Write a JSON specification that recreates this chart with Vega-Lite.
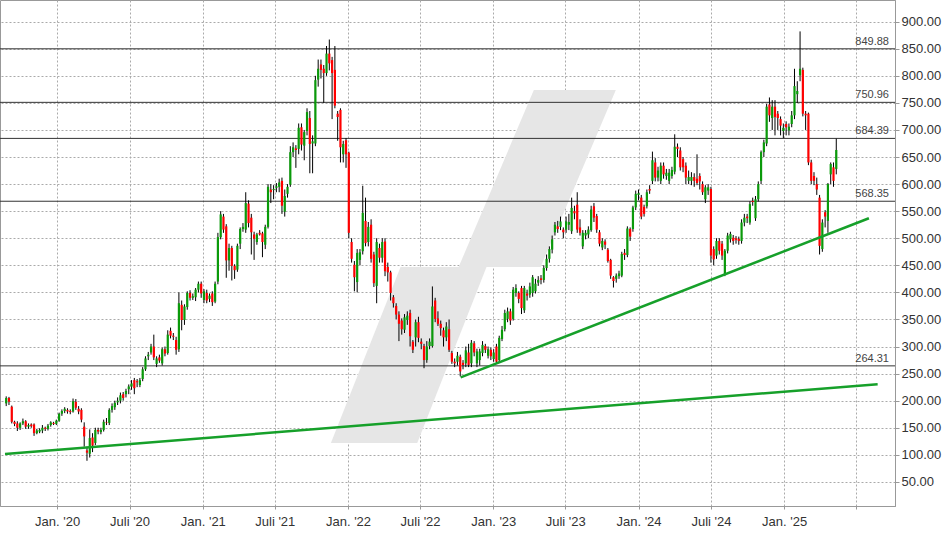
{
"$schema": "https://vega.github.io/schema/vega-lite/v6.json",
"width": 895, "height": 506,
"autosize": "none",
"padding": {"left": 0, "top": 0, "right": 53, "bottom": 28},
"background": "white",
"config": {
 "view": {"stroke": "#999", "strokeWidth": 1},
 "axis": {"labelFont": "Liberation Sans", "labelFontSize": 13, "labelColor": "#333", "gridColor": "#aaa", "gridDash": [2, 2], "gridWidth": 1, "domainColor": "#999", "tickColor": "#999", "tickSize": 4, "title": null, "labelOverlap": false},
 "axisY": {"labelOverlap": false, "labelFlush": false}
},
"datasets": {
 "wm": [
  {"s": "L", "d": "2021-11-19", "lo": 121.9, "hi": 121.9},
  {"s": "L", "d": "2022-05-13", "lo": 121.9, "hi": 446.9},
  {"s": "L", "d": "2022-06-24", "lo": 121.9, "hi": 446.9},
  {"s": "L", "d": "2022-12-15", "lo": 446.9, "hi": 446.9},
  {"s": "U", "d": "2022-10-06", "lo": 446.9, "hi": 446.9},
  {"s": "U", "d": "2023-04-13", "lo": 446.9, "hi": 773.8},
  {"s": "U", "d": "2023-04-30", "lo": 446.9, "hi": 773.8},
  {"s": "U", "d": "2023-11-05", "lo": 773.8, "hi": 773.8}
 ],
 "levels": [
  {"v": 849.88, "t": "849.88", "d": "2025-09-24"},
  {"v": 750.96, "t": "750.96", "d": "2025-09-24"},
  {"v": 684.39, "t": "684.39", "d": "2025-09-24"},
  {"v": 568.35, "t": "568.35", "d": "2025-09-24"},
  {"v": 264.31, "t": "264.31", "d": "2025-09-24"}
 ],
 "trend": [
  {"g": "A", "d": "2019-08-23", "p": 101.5},
  {"g": "A", "d": "2025-08-24", "p": 230.5},
  {"g": "B", "d": "2022-10-11", "p": 243},
  {"g": "B", "d": "2025-08-02", "p": 537}
 ],
 "k": [
{"d":"2019-08-26","o":195,"h":208,"l":190,"c":205},
{"d":"2019-09-02","o":205,"h":207,"l":192,"c":198},
{"d":"2019-09-09","o":189,"h":191,"l":158,"c":161},
{"d":"2019-09-16","o":161,"h":163,"l":153,"c":157},
{"d":"2019-09-23","o":158,"h":162,"l":144,"c":150},
{"d":"2019-09-30","o":150,"h":160,"l":146,"c":158},
{"d":"2019-10-07","o":158,"h":167,"l":155,"c":162},
{"d":"2019-10-14","o":162,"h":164,"l":148,"c":152},
{"d":"2019-10-21","o":152,"h":158,"l":148,"c":155},
{"d":"2019-10-28","o":156,"h":158,"l":150,"c":153},
{"d":"2019-11-04","o":156,"h":158,"l":135,"c":140},
{"d":"2019-11-11","o":140,"h":148,"l":138,"c":145},
{"d":"2019-11-18","o":143,"h":149,"l":140,"c":146},
{"d":"2019-11-25","o":145,"h":155,"l":140,"c":150},
{"d":"2019-12-02","o":150,"h":152,"l":144,"c":148},
{"d":"2019-12-09","o":148,"h":157,"l":145,"c":154},
{"d":"2019-12-16","o":155,"h":162,"l":152,"c":160},
{"d":"2019-12-23","o":159,"h":161,"l":155,"c":157},
{"d":"2019-12-30","o":157,"h":165,"l":155,"c":163},
{"d":"2020-01-06","o":163,"h":178,"l":161,"c":176},
{"d":"2020-01-13","o":176,"h":184,"l":172,"c":181},
{"d":"2020-01-20","o":181,"h":188,"l":177,"c":185},
{"d":"2020-01-27","o":183,"h":186,"l":176,"c":180},
{"d":"2020-02-03","o":181,"h":184,"l":175,"c":179},
{"d":"2020-02-10","o":180,"h":204,"l":178,"c":199},
{"d":"2020-02-17","o":198,"h":203,"l":183,"c":187},
{"d":"2020-02-24","o":185,"h":190,"l":175,"c":180},
{"d":"2020-03-02","o":183,"h":186,"l":160,"c":165},
{"d":"2020-03-09","o":152,"h":160,"l":115,"c":134},
{"d":"2020-03-16","o":108,"h":115,"l":89,"c":104},
{"d":"2020-03-23","o":102,"h":147,"l":95,"c":131},
{"d":"2020-03-30","o":132,"h":140,"l":105,"c":117},
{"d":"2020-04-06","o":122,"h":150,"l":118,"c":146},
{"d":"2020-04-13","o":146,"h":150,"l":138,"c":143},
{"d":"2020-04-20","o":142,"h":150,"l":138,"c":146},
{"d":"2020-04-27","o":146,"h":165,"l":143,"c":161},
{"d":"2020-05-04","o":160,"h":168,"l":155,"c":159},
{"d":"2020-05-11","o":159,"h":186,"l":155,"c":183},
{"d":"2020-05-18","o":183,"h":195,"l":178,"c":190},
{"d":"2020-05-25","o":188,"h":200,"l":183,"c":196},
{"d":"2020-06-01","o":197,"h":206,"l":192,"c":200},
{"d":"2020-06-08","o":200,"h":215,"l":195,"c":210},
{"d":"2020-06-15","o":212,"h":216,"l":200,"c":205},
{"d":"2020-06-22","o":212,"h":222,"l":206,"c":218},
{"d":"2020-06-29","o":221,"h":230,"l":212,"c":226},
{"d":"2020-07-06","o":226,"h":238,"l":220,"c":232},
{"d":"2020-07-13","o":238,"h":242,"l":212,"c":223},
{"d":"2020-07-20","o":236,"h":240,"l":225,"c":234},
{"d":"2020-07-27","o":229,"h":242,"l":225,"c":238},
{"d":"2020-08-03","o":240,"h":262,"l":236,"c":258},
{"d":"2020-08-10","o":258,"h":282,"l":255,"c":278},
{"d":"2020-08-17","o":282,"h":290,"l":275,"c":285},
{"d":"2020-08-24","o":289,"h":305,"l":285,"c":300},
{"d":"2020-08-31","o":300,"h":322,"l":275,"c":280},
{"d":"2020-09-07","o":268,"h":282,"l":262,"c":278},
{"d":"2020-09-14","o":280,"h":285,"l":270,"c":274},
{"d":"2020-09-21","o":269,"h":298,"l":265,"c":295},
{"d":"2020-09-28","o":295,"h":300,"l":282,"c":287},
{"d":"2020-10-05","o":288,"h":330,"l":285,"c":322},
{"d":"2020-10-12","o":329,"h":335,"l":315,"c":320},
{"d":"2020-10-19","o":320,"h":325,"l":312,"c":318},
{"d":"2020-10-26","o":312,"h":318,"l":285,"c":294},
{"d":"2020-11-02","o":295,"h":400,"l":290,"c":380},
{"d":"2020-11-09","o":377,"h":385,"l":330,"c":349},
{"d":"2020-11-16","o":349,"h":378,"l":340,"c":374},
{"d":"2020-11-23","o":373,"h":402,"l":368,"c":399},
{"d":"2020-11-30","o":399,"h":404,"l":385,"c":390},
{"d":"2020-12-07","o":390,"h":398,"l":386,"c":393},
{"d":"2020-12-14","o":391,"h":408,"l":384,"c":405},
{"d":"2020-12-21","o":405,"h":420,"l":400,"c":416},
{"d":"2020-12-28","o":416,"h":420,"l":390,"c":398},
{"d":"2021-01-04","o":386,"h":406,"l":380,"c":402},
{"d":"2021-01-11","o":399,"h":405,"l":380,"c":385},
{"d":"2021-01-18","o":388,"h":398,"l":382,"c":394},
{"d":"2021-01-25","o":398,"h":402,"l":375,"c":382},
{"d":"2021-02-01","o":383,"h":420,"l":380,"c":416},
{"d":"2021-02-08","o":420,"h":510,"l":415,"c":502},
{"d":"2021-02-15","o":502,"h":550,"l":498,"c":544},
{"d":"2021-02-22","o":540,"h":545,"l":510,"c":516},
{"d":"2021-03-01","o":522,"h":526,"l":427,"c":459},
{"d":"2021-03-08","o":459,"h":490,"l":440,"c":482},
{"d":"2021-03-15","o":482,"h":486,"l":422,"c":449},
{"d":"2021-03-22","o":449,"h":452,"l":425,"c":441},
{"d":"2021-03-29","o":442,"h":490,"l":438,"c":486},
{"d":"2021-04-05","o":490,"h":520,"l":480,"c":517},
{"d":"2021-04-12","o":517,"h":528,"l":512,"c":521},
{"d":"2021-04-19","o":516,"h":585,"l":510,"c":565},
{"d":"2021-04-26","o":564,"h":570,"l":520,"c":528},
{"d":"2021-05-03","o":538,"h":545,"l":470,"c":511},
{"d":"2021-05-10","o":507,"h":512,"l":460,"c":499},
{"d":"2021-05-17","o":493,"h":510,"l":488,"c":507},
{"d":"2021-05-24","o":510,"h":515,"l":505,"c":507},
{"d":"2021-05-31","o":509,"h":512,"l":465,"c":493},
{"d":"2021-06-07","o":488,"h":525,"l":480,"c":521},
{"d":"2021-06-14","o":521,"h":600,"l":518,"c":595},
{"d":"2021-06-21","o":590,"h":600,"l":565,"c":585},
{"d":"2021-06-28","o":589,"h":598,"l":572,"c":591},
{"d":"2021-07-05","o":593,"h":602,"l":585,"c":596},
{"d":"2021-07-12","o":595,"h":610,"l":585,"c":603},
{"d":"2021-07-19","o":606,"h":612,"l":545,"c":560},
{"d":"2021-07-26","o":549,"h":590,"l":540,"c":578},
{"d":"2021-08-02","o":582,"h":600,"l":575,"c":595},
{"d":"2021-08-09","o":599,"h":670,"l":595,"c":659},
{"d":"2021-08-16","o":659,"h":677,"l":650,"c":668},
{"d":"2021-08-23","o":666,"h":672,"l":630,"c":663},
{"d":"2021-08-30","o":665,"h":712,"l":655,"c":704},
{"d":"2021-09-06","o":705,"h":712,"l":662,"c":673},
{"d":"2021-09-13","o":671,"h":700,"l":644,"c":696},
{"d":"2021-09-20","o":698,"h":740,"l":690,"c":733},
{"d":"2021-09-27","o":722,"h":735,"l":620,"c":674},
{"d":"2021-10-04","o":675,"h":690,"l":620,"c":679},
{"d":"2021-10-11","o":675,"h":800,"l":670,"c":792},
{"d":"2021-10-18","o":793,"h":830,"l":780,"c":813},
{"d":"2021-10-25","o":821,"h":830,"l":795,"c":811},
{"d":"2021-11-01","o":813,"h":820,"l":750,"c":805},
{"d":"2021-11-08","o":805,"h":855,"l":800,"c":841},
{"d":"2021-11-15","o":841,"h":867,"l":810,"c":823},
{"d":"2021-11-22","o":829,"h":835,"l":720,"c":805},
{"d":"2021-11-29","o":811,"h":855,"l":740,"c":745},
{"d":"2021-12-06","o":730,"h":735,"l":680,"c":724},
{"d":"2021-12-13","o":737,"h":740,"l":640,"c":668},
{"d":"2021-12-20","o":655,"h":680,"l":640,"c":674},
{"d":"2021-12-27","o":681,"h":685,"l":630,"c":655},
{"d":"2022-01-03","o":658,"h":660,"l":500,"c":510},
{"d":"2022-01-10","o":493,"h":500,"l":455,"c":462},
{"d":"2022-01-17","o":451,"h":458,"l":402,"c":428},
{"d":"2022-01-24","o":419,"h":480,"l":400,"c":473},
{"d":"2022-01-31","o":460,"h":480,"l":450,"c":474},
{"d":"2022-02-07","o":476,"h":597,"l":470,"c":547},
{"d":"2022-02-14","o":532,"h":575,"l":485,"c":491},
{"d":"2022-02-21","o":493,"h":530,"l":485,"c":521},
{"d":"2022-02-28","o":525,"h":535,"l":455,"c":462},
{"d":"2022-03-07","o":470,"h":475,"l":410,"c":417},
{"d":"2022-03-14","o":412,"h":500,"l":380,"c":493},
{"d":"2022-03-21","o":482,"h":490,"l":455,"c":464},
{"d":"2022-03-28","o":464,"h":500,"l":455,"c":493},
{"d":"2022-04-04","o":494,"h":500,"l":430,"c":439},
{"d":"2022-04-11","o":447,"h":455,"l":420,"c":437},
{"d":"2022-04-18","o":437,"h":440,"l":385,"c":399},
{"d":"2022-04-25","o":391,"h":395,"l":372,"c":380},
{"d":"2022-05-02","o":375,"h":380,"l":350,"c":359},
{"d":"2022-05-09","o":359,"h":365,"l":310,"c":342},
{"d":"2022-05-16","o":348,"h":352,"l":322,"c":332},
{"d":"2022-05-23","o":331,"h":360,"l":325,"c":354},
{"d":"2022-05-30","o":349,"h":365,"l":340,"c":357},
{"d":"2022-06-06","o":362,"h":368,"l":300,"c":319},
{"d":"2022-06-13","o":309,"h":312,"l":288,"c":294},
{"d":"2022-06-20","o":317,"h":350,"l":300,"c":345},
{"d":"2022-06-27","o":345,"h":355,"l":308,"c":316},
{"d":"2022-07-04","o":309,"h":315,"l":295,"c":305},
{"d":"2022-07-11","o":301,"h":305,"l":260,"c":275},
{"d":"2022-07-18","o":275,"h":310,"l":270,"c":300},
{"d":"2022-07-25","o":301,"h":315,"l":295,"c":309},
{"d":"2022-08-01","o":301,"h":411,"l":298,"c":374},
{"d":"2022-08-08","o":385,"h":390,"l":345,"c":351},
{"d":"2022-08-15","o":352,"h":365,"l":338,"c":342},
{"d":"2022-08-22","o":342,"h":348,"l":320,"c":334},
{"d":"2022-08-29","o":330,"h":335,"l":300,"c":317},
{"d":"2022-09-05","o":317,"h":345,"l":310,"c":337},
{"d":"2022-09-12","o":332,"h":350,"l":290,"c":294},
{"d":"2022-09-19","o":288,"h":292,"l":268,"c":272},
{"d":"2022-09-26","o":272,"h":278,"l":262,"c":269},
{"d":"2022-10-03","o":272,"h":290,"l":265,"c":283},
{"d":"2022-10-10","o":281,"h":285,"l":245,"c":254},
{"d":"2022-10-17","o":270,"h":275,"l":258,"c":266},
{"d":"2022-10-24","o":269,"h":300,"l":262,"c":293},
{"d":"2022-10-31","o":289,"h":305,"l":262,"c":266},
{"d":"2022-11-07","o":269,"h":312,"l":262,"c":307},
{"d":"2022-11-14","o":306,"h":310,"l":282,"c":289},
{"d":"2022-11-21","o":269,"h":296,"l":262,"c":291},
{"d":"2022-11-28","o":275,"h":296,"l":265,"c":291},
{"d":"2022-12-05","o":288,"h":310,"l":282,"c":303},
{"d":"2022-12-12","o":301,"h":305,"l":288,"c":294},
{"d":"2022-12-19","o":283,"h":300,"l":278,"c":295},
{"d":"2022-12-26","o":294,"h":298,"l":275,"c":282},
{"d":"2023-01-02","o":277,"h":295,"l":272,"c":289},
{"d":"2023-01-09","o":300,"h":305,"l":268,"c":272},
{"d":"2023-01-16","o":275,"h":320,"l":270,"c":316},
{"d":"2023-01-23","o":314,"h":338,"l":310,"c":331},
{"d":"2023-01-30","o":332,"h":368,"l":328,"c":362},
{"d":"2023-02-06","o":351,"h":372,"l":345,"c":365},
{"d":"2023-02-13","o":365,"h":370,"l":340,"c":348},
{"d":"2023-02-20","o":351,"h":410,"l":348,"c":405},
{"d":"2023-02-27","o":399,"h":415,"l":392,"c":408},
{"d":"2023-03-06","o":399,"h":402,"l":380,"c":388},
{"d":"2023-03-13","o":408,"h":412,"l":360,"c":371},
{"d":"2023-03-20","o":367,"h":412,"l":362,"c":408},
{"d":"2023-03-27","o":398,"h":405,"l":385,"c":394},
{"d":"2023-04-03","o":396,"h":418,"l":390,"c":411},
{"d":"2023-04-10","o":399,"h":432,"l":392,"c":428},
{"d":"2023-04-17","o":402,"h":425,"l":398,"c":416},
{"d":"2023-04-24","o":418,"h":430,"l":412,"c":423},
{"d":"2023-05-01","o":426,"h":432,"l":415,"c":423},
{"d":"2023-05-08","o":423,"h":450,"l":418,"c":445},
{"d":"2023-05-15","o":445,"h":470,"l":440,"c":462},
{"d":"2023-05-22","o":462,"h":485,"l":455,"c":480},
{"d":"2023-05-29","o":479,"h":505,"l":472,"c":498},
{"d":"2023-06-05","o":511,"h":530,"l":505,"c":525},
{"d":"2023-06-12","o":522,"h":532,"l":510,"c":517},
{"d":"2023-06-19","o":521,"h":540,"l":515,"c":531},
{"d":"2023-06-26","o":516,"h":520,"l":500,"c":511},
{"d":"2023-07-03","o":516,"h":540,"l":510,"c":531},
{"d":"2023-07-10","o":525,"h":545,"l":515,"c":530},
{"d":"2023-07-17","o":513,"h":575,"l":508,"c":556},
{"d":"2023-07-24","o":550,"h":560,"l":535,"c":546},
{"d":"2023-07-31","o":562,"h":585,"l":510,"c":516},
{"d":"2023-08-07","o":520,"h":535,"l":505,"c":510},
{"d":"2023-08-14","o":485,"h":515,"l":480,"c":510},
{"d":"2023-08-21","o":505,"h":515,"l":498,"c":510},
{"d":"2023-08-28","o":507,"h":522,"l":500,"c":516},
{"d":"2023-09-04","o":515,"h":560,"l":512,"c":553},
{"d":"2023-09-11","o":559,"h":565,"l":530,"c":538},
{"d":"2023-09-18","o":541,"h":545,"l":510,"c":516},
{"d":"2023-09-25","o":511,"h":515,"l":485,"c":490},
{"d":"2023-10-02","o":483,"h":500,"l":478,"c":495},
{"d":"2023-10-09","o":494,"h":498,"l":480,"c":488},
{"d":"2023-10-16","o":479,"h":482,"l":455,"c":458},
{"d":"2023-10-23","o":460,"h":462,"l":425,"c":431},
{"d":"2023-10-30","o":428,"h":430,"l":409,"c":421},
{"d":"2023-11-06","o":425,"h":435,"l":418,"c":431},
{"d":"2023-11-13","o":430,"h":440,"l":425,"c":435},
{"d":"2023-11-20","o":431,"h":475,"l":428,"c":471},
{"d":"2023-11-27","o":473,"h":480,"l":460,"c":469},
{"d":"2023-12-04","o":469,"h":522,"l":465,"c":518},
{"d":"2023-12-11","o":517,"h":520,"l":495,"c":503},
{"d":"2023-12-18","o":517,"h":560,"l":512,"c":557},
{"d":"2023-12-25","o":557,"h":588,"l":552,"c":582},
{"d":"2024-01-01","o":580,"h":590,"l":570,"c":583},
{"d":"2024-01-08","o":575,"h":580,"l":535,"c":540},
{"d":"2024-01-15","o":558,"h":562,"l":540,"c":545},
{"d":"2024-01-22","o":559,"h":590,"l":555,"c":585},
{"d":"2024-01-29","o":591,"h":598,"l":582,"c":588},
{"d":"2024-02-05","o":606,"h":660,"l":600,"c":644},
{"d":"2024-02-12","o":640,"h":648,"l":605,"c":612},
{"d":"2024-02-19","o":612,"h":632,"l":605,"c":625},
{"d":"2024-02-26","o":606,"h":640,"l":600,"c":634},
{"d":"2024-03-04","o":634,"h":640,"l":610,"c":618},
{"d":"2024-03-11","o":615,"h":628,"l":608,"c":621},
{"d":"2024-03-18","o":606,"h":628,"l":600,"c":621},
{"d":"2024-03-25","o":615,"h":632,"l":610,"c":626},
{"d":"2024-04-01","o":623,"h":692,"l":618,"c":669},
{"d":"2024-04-08","o":669,"h":675,"l":650,"c":665},
{"d":"2024-04-15","o":662,"h":668,"l":625,"c":631},
{"d":"2024-04-22","o":646,"h":650,"l":622,"c":631},
{"d":"2024-04-29","o":634,"h":640,"l":600,"c":612},
{"d":"2024-05-06","o":606,"h":625,"l":600,"c":613},
{"d":"2024-05-13","o":606,"h":622,"l":598,"c":613},
{"d":"2024-05-20","o":613,"h":620,"l":595,"c":606},
{"d":"2024-05-27","o":610,"h":655,"l":598,"c":602},
{"d":"2024-06-03","o":615,"h":620,"l":590,"c":605},
{"d":"2024-06-10","o":600,"h":605,"l":580,"c":585},
{"d":"2024-06-17","o":572,"h":598,"l":565,"c":594},
{"d":"2024-06-24","o":588,"h":600,"l":580,"c":594},
{"d":"2024-07-01","o":591,"h":595,"l":455,"c":468},
{"d":"2024-07-08","o":480,"h":485,"l":450,"c":461},
{"d":"2024-07-15","o":468,"h":500,"l":462,"c":495},
{"d":"2024-07-22","o":495,"h":500,"l":470,"c":477},
{"d":"2024-07-29","o":490,"h":495,"l":460,"c":468},
{"d":"2024-08-05","o":434,"h":480,"l":430,"c":477},
{"d":"2024-08-12","o":477,"h":510,"l":472,"c":505},
{"d":"2024-08-19","o":498,"h":512,"l":492,"c":508},
{"d":"2024-08-26","o":501,"h":506,"l":488,"c":495},
{"d":"2024-09-02","o":500,"h":504,"l":490,"c":497},
{"d":"2024-09-09","o":499,"h":503,"l":488,"c":495},
{"d":"2024-09-16","o":495,"h":535,"l":490,"c":529},
{"d":"2024-09-23","o":529,"h":545,"l":522,"c":538},
{"d":"2024-09-30","o":540,"h":545,"l":528,"c":537},
{"d":"2024-10-07","o":529,"h":568,"l":525,"c":563},
{"d":"2024-10-14","o":569,"h":575,"l":560,"c":567},
{"d":"2024-10-21","o":537,"h":578,"l":532,"c":572},
{"d":"2024-10-28","o":572,"h":605,"l":568,"c":600},
{"d":"2024-11-04","o":606,"h":662,"l":600,"c":659},
{"d":"2024-11-11","o":659,"h":682,"l":650,"c":677},
{"d":"2024-11-18","o":675,"h":748,"l":670,"c":743},
{"d":"2024-11-25","o":747,"h":760,"l":715,"c":727},
{"d":"2024-12-02","o":722,"h":755,"l":700,"c":743},
{"d":"2024-12-09","o":743,"h":755,"l":690,"c":724},
{"d":"2024-12-16","o":730,"h":735,"l":700,"c":722},
{"d":"2024-12-23","o":720,"h":725,"l":690,"c":708},
{"d":"2024-12-30","o":698,"h":712,"l":685,"c":704},
{"d":"2025-01-06","o":711,"h":716,"l":690,"c":705},
{"d":"2025-01-13","o":699,"h":712,"l":690,"c":706},
{"d":"2025-01-20","o":711,"h":735,"l":705,"c":727},
{"d":"2025-01-27","o":727,"h":813,"l":720,"c":781},
{"d":"2025-02-03","o":766,"h":790,"l":750,"c":772},
{"d":"2025-02-10","o":801,"h":882,"l":790,"c":813},
{"d":"2025-02-17","o":811,"h":815,"l":725,"c":730},
{"d":"2025-02-24","o":730,"h":735,"l":700,"c":727},
{"d":"2025-03-03","o":730,"h":732,"l":635,"c":640},
{"d":"2025-03-10","o":640,"h":645,"l":600,"c":606},
{"d":"2025-03-17","o":615,"h":622,"l":598,"c":606},
{"d":"2025-03-24","o":600,"h":612,"l":580,"c":590},
{"d":"2025-03-31","o":575,"h":580,"l":470,"c":486},
{"d":"2025-04-07","o":480,"h":535,"l":475,"c":529},
{"d":"2025-04-14","o":548,"h":552,"l":520,"c":540},
{"d":"2025-04-21","o":532,"h":602,"l":510,"c":600},
{"d":"2025-04-28","o":618,"h":640,"l":600,"c":637},
{"d":"2025-05-05","o":631,"h":640,"l":595,"c":606},
{"d":"2025-05-12","o":628,"h":684,"l":618,"c":663}
 ]
},
"layer": [
 {
  "data": {"name": "wm"},
  "mark": {"type": "area", "color": "#e6e6e6", "opacity": 1},
  "encoding": {
   "x": {"field": "d", "type": "temporal", "title": null,
    "scale": {"type": "utc", "domain": [{"year": 2019, "month": 8, "date": 23, "utc": true}, {"year": 2025, "month": 9, "date": 24, "utc": true}]},
    "axis": {"values": [
      {"year": 2020, "month": 1, "date": 1, "utc": true}, {"year": 2020, "month": 7, "date": 1, "utc": true},
      {"year": 2021, "month": 1, "date": 1, "utc": true}, {"year": 2021, "month": 7, "date": 1, "utc": true},
      {"year": 2022, "month": 1, "date": 1, "utc": true}, {"year": 2022, "month": 7, "date": 1, "utc": true},
      {"year": 2023, "month": 1, "date": 1, "utc": true}, {"year": 2023, "month": 7, "date": 1, "utc": true},
      {"year": 2024, "month": 1, "date": 1, "utc": true}, {"year": 2024, "month": 7, "date": 1, "utc": true},
      {"year": 2025, "month": 1, "date": 1, "utc": true}, {"year": 2025, "month": 7, "date": 1, "utc": true}],
     "labelExpr": "(utcyear(datum.value) == 2025 && utcmonth(datum.value) == 6) ? '' : ((utcmonth(datum.value) == 0 ? 'Jan. ' : 'Juli ') + \"'\" + utcFormat(datum.value, '%y'))",
     "labelPadding": 6, "tickSize": 3, "labelFlush": false, "labelOverlap": false}},
   "y": {"field": "lo", "type": "quantitative", "title": null,
    "scale": {"domain": [5.5, 940], "nice": false, "zero": false},
    "axis": {"orient": "right", "values": [50,100,150,200,250,300,350,400,450,500,550,600,650,700,750,800,850,900], "format": ".2f", "labelPadding": 2, "tickSize": 4, "labelOverlap": false, "labelFlush": false}},
   "y2": {"field": "hi"},
   "detail": {"field": "s"}
  }
 },
 {
  "data": {"name": "levels"},
  "mark": {"type": "rule", "color": "#333", "strokeWidth": 1},
  "encoding": {"y": {"field": "v", "type": "quantitative", "title": null,
    "axis": {"orient": "right", "values": [50,100,150,200,250,300,350,400,450,500,550,600,650,700,750,800,850,900], "format": ".2f", "labelPadding": 2, "tickSize": 4, "labelOverlap": false, "labelFlush": false}}}
 },
 {
  "data": {"name": "levels"},
  "mark": {"type": "text", "align": "right", "baseline": "bottom", "dx": -1, "dy": -2, "font": "Liberation Sans", "fontSize": 11, "color": "#444"},
  "encoding": {
   "x": {"field": "d", "type": "temporal", "title": null},
   "y": {"field": "v", "type": "quantitative", "title": null,
    "axis": {"orient": "right", "values": [50,100,150,200,250,300,350,400,450,500,550,600,650,700,750,800,850,900], "format": ".2f", "labelPadding": 2, "tickSize": 4, "labelOverlap": false, "labelFlush": false}},
   "text": {"field": "t"}
  }
 },
 {
  "data": {"name": "k"},
  "mark": {"type": "rule", "color": "#000", "strokeWidth": 1},
  "encoding": {
   "x": {"field": "d", "type": "temporal", "title": null},
   "y": {"field": "l", "type": "quantitative", "title": null,
    "axis": {"orient": "right", "values": [50,100,150,200,250,300,350,400,450,500,550,600,650,700,750,800,850,900], "format": ".2f", "labelPadding": 2, "tickSize": 4, "labelOverlap": false, "labelFlush": false}},
   "y2": {"field": "h"}
  }
 },
 {
  "data": {"name": "k"},
  "mark": {"type": "bar", "size": 2.2},
  "encoding": {
   "x": {"field": "d", "type": "temporal", "title": null},
   "y": {"field": "o", "type": "quantitative", "title": null,
    "axis": {"orient": "right", "values": [50,100,150,200,250,300,350,400,450,500,550,600,650,700,750,800,850,900], "format": ".2f", "labelPadding": 2, "tickSize": 4, "labelOverlap": false, "labelFlush": false}},
   "y2": {"field": "c"},
   "color": {"condition": {"test": "datum.c >= datum.o", "value": "#0a9a0a"}, "value": "#ff0000"}
  }
 },
 {
  "data": {"name": "trend"},
  "mark": {"type": "line", "color": "#16a02a", "strokeWidth": 2.5},
  "encoding": {
   "x": {"field": "d", "type": "temporal", "title": null},
   "y": {"field": "p", "type": "quantitative", "title": null,
    "axis": {"orient": "right", "values": [50,100,150,200,250,300,350,400,450,500,550,600,650,700,750,800,850,900], "format": ".2f", "labelPadding": 2, "tickSize": 4, "labelOverlap": false, "labelFlush": false}},
   "detail": {"field": "g"}
  }
 }
]
}
